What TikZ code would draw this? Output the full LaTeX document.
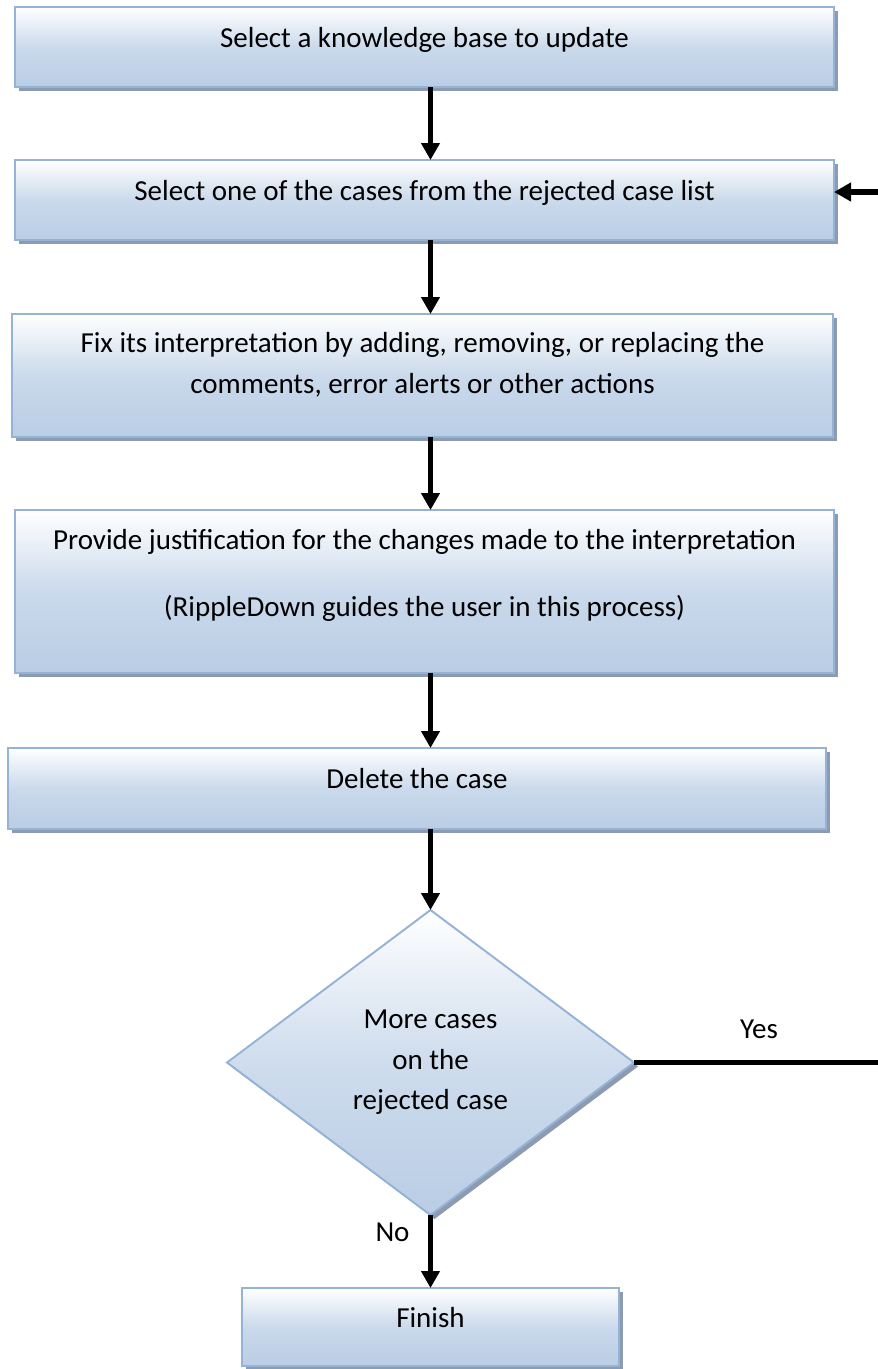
\documentclass[tikz,border=0pt]{standalone}
\usepackage{fontspec}
\setmainfont{Carlito}
\usetikzlibrary{positioning}
\usetikzlibrary{shapes.geometric, arrows.meta, shadows}

\definecolor{boxedge}{RGB}{149,179,215}
\definecolor{boxfill}{RGB}{185,205,229}
\definecolor{boxshade}{RGB}{140,155,176}

\tikzset{
	stepbox/.style = {
		rectangle, draw=boxedge, line width=1.1pt,
		top color=white, bottom color=boxfill, middle color=boxfill!75!white,
		drop shadow={shadow xshift=0.08cm, shadow yshift=-0.08cm, fill=boxshade, opacity=1},
		minimum width=16.38cm, inner sep=0pt, outer sep=0pt, align=center
	},
	decision/.style = {
		diamond, draw=boxedge, line width=1.1pt,
		top color=white, bottom color=boxfill, middle color=boxfill!70!white,
		drop shadow={shadow xshift=0.08cm, shadow yshift=-0.08cm, fill=boxshade, opacity=1},
		minimum width=8.14cm, minimum height=6.1cm, inner sep=0pt, outer sep=0pt, align=center
	},
	flow/.style = {
		-{Triangle[width=0.36cm, length=0.34cm]}, line width=3pt
	}
}

\begin{document}
\begin{tikzpicture}[node distance=1.46cm, font=\fontsize{16.5}{23.1}\selectfont]
		\useasboundingbox (0,0) rectangle (17.56,-27.38);
		\node (b1) [stepbox, minimum height=1.6cm, text height=12pt, text depth=12pt] at (8.49,-0.94) {Select a knowledge base to update};
		\node (b2) [stepbox, minimum height=1.6cm, text height=12pt, text depth=12pt, below = of b1] {Select one of the cases from the rejected case list};
		\node (b3) [stepbox, minimum width=16.42cm, minimum height=2.46cm, text height=32.2pt, text depth=12pt, below = 1.48cm of b2, xshift=-0.04cm] {Fix its interpretation by adding, removing, or replacing the\\comments, error alerts or other actions};
		\node (b4) [stepbox, minimum height=3.26cm, text height=40.6pt, text depth=12pt, below = of b3, xshift=0.04cm] {Provide justification for the changes made to the interpretation\\[15.3pt](RippleDown guides the user in this process)};
		\node (b5) [stepbox, minimum width=16.36cm, minimum height=1.62cm, text height=12pt, text depth=12pt, below = 1.5cm of b4, xshift=-0.15cm] {Delete the case};
		\node (dec) [decision, below = 1.62cm of b5, xshift=0.27cm] {More cases\\on the\\rejected case};
		\node (fin) [stepbox, minimum width=7.54cm, minimum height=1.56cm, text height=12pt, text depth=12pt, below = of dec] {Finish};
		\coordinate (yesend) at ([xshift=5cm]dec.east);
		\coordinate (backin) at ([xshift=1cm, yshift=0.16cm]b2.east);
		\draw [flow] (b1.south -| dec.north) -- (b2.north -| dec.north);
		\draw [flow] (b2.south -| dec.north) -- (b3.north -| dec.north);
		\draw [flow] (b3.south -| dec.north) -- (b4.north -| dec.north);
		\draw [flow] (b4.south -| dec.north) -- (b5.north -| dec.north);
		\draw [flow] (b5.south -| dec.north) -- (dec.north);
		\draw [line width=3pt] (dec.east) -- node[above=0.3cm] (yes) {Yes} (yesend);
		\draw [flow] (backin) -- (backin -| b2.east);
		\draw [flow] (dec.south) -- node[pos=0.23, left=0.25cm] (no) {No} (fin.north);
	\end{tikzpicture}
\end{document}
